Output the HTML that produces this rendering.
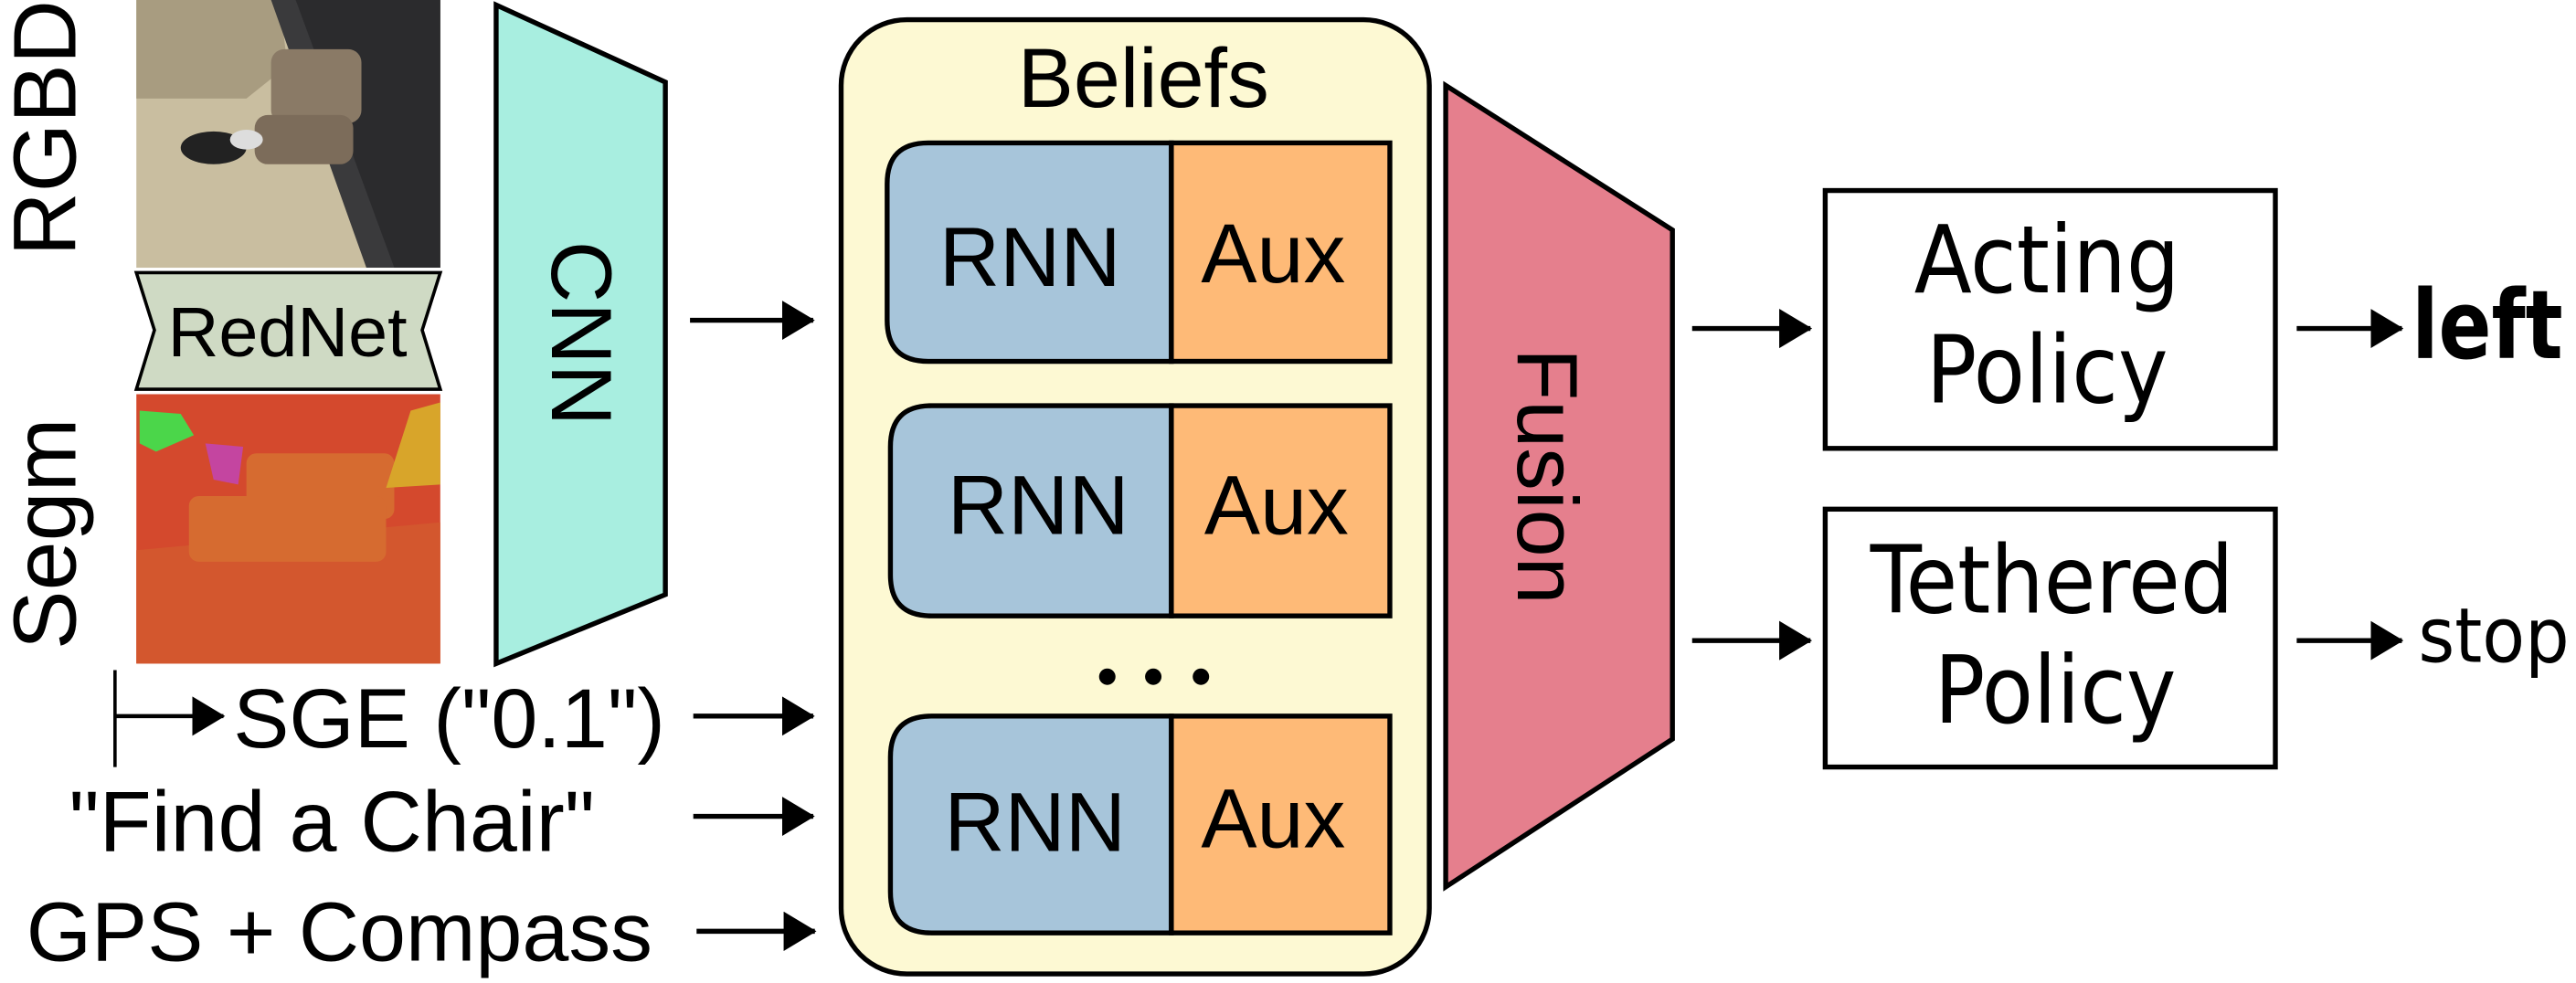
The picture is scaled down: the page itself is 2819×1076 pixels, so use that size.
<!DOCTYPE html>
<html><head><style>html,body{margin:0;padding:0;background:#fff;}svg{display:block;}</style></head>
<body>
<svg width="2819" height="1076" viewBox="0 0 1568 598.5" preserveAspectRatio="none" xmlns="http://www.w3.org/2000/svg" font-family="Liberation Sans, DejaVu Sans, sans-serif">
<defs>
<marker id="ah" markerWidth="20" markerHeight="24" refX="19" refY="12" orient="auto" markerUnits="userSpaceOnUse" viewBox="0 0 20 24"><path d="M0,0 L20,12 L0,24 z" fill="#000"/></marker>
</defs>
<rect x="83" y="0" width="185" height="163" fill="#c9bea0"/>
<polygon points="83,0 170,0 175,40 150,60 83,60" fill="#a89c80"/>
<polygon points="165,0 268,0 268,163 223,163" fill="#3a3a3c"/>
<polygon points="180,0 268,0 268,163 240,163" fill="#2b2b2d"/>
<rect x="165" y="30" width="55" height="45" rx="8" fill="#8a7a66"/>
<rect x="155" y="70" width="60" height="30" rx="8" fill="#7c6c5a"/>
<ellipse cx="130" cy="90" rx="20" ry="10" fill="#222"/>
<ellipse cx="150" cy="85" rx="10" ry="6" fill="#ddd"/>
<polygon points="83,166 268,166 257,201 268,237 83,237 94,201" fill="#cfdac4" stroke="#000" stroke-width="2"/>
<text x="175" y="217" font-size="43" text-anchor="middle">RedNet</text>
<rect x="83" y="240" width="185" height="164" fill="#d4492d"/>
<polygon points="83,335 268,318 268,404 83,404" fill="#d3572e"/>
<rect x="150" y="276" width="90" height="40" rx="6" fill="#d66b30"/>
<rect x="115" y="302" width="120" height="40" rx="6" fill="#d66b30"/>
<polygon points="250,250 268,245 268,295 235,297" fill="#d8a52a"/>
<polygon points="85,250 110,252 118,265 95,275 85,270" fill="#4bd64a"/>
<polygon points="125,270 148,272 145,295 130,292" fill="#c445a0"/>
<text transform="translate(46,78) rotate(-90)" font-size="54" text-anchor="middle">RGBD</text>
<text transform="translate(46,325) rotate(-90)" font-size="54" text-anchor="middle">Segm</text>
<polygon points="302,3 405,50 405,362 302,404" fill="#a8eee0" stroke="#000" stroke-width="3"/>
<text transform="translate(336,203) rotate(90)" font-size="52" text-anchor="middle">CNN</text>
<line x1="420" y1="195" x2="495" y2="195" stroke="#000" stroke-width="3" marker-end="url(#ah)"/>
<line x1="70" y1="408" x2="70" y2="467" stroke="#000" stroke-width="2"/>
<line x1="70" y1="436" x2="136" y2="436" stroke="#000" stroke-width="2.5" marker-end="url(#ah)"/>
<text x="142" y="455" font-size="51">SGE ("0.1")</text>
<line x1="422" y1="436" x2="495" y2="436" stroke="#000" stroke-width="3" marker-end="url(#ah)"/>
<text x="42" y="518" font-size="52">"Find a Chair"</text>
<line x1="422" y1="497" x2="495" y2="497" stroke="#000" stroke-width="3" marker-end="url(#ah)"/>
<text x="16" y="585" font-size="51">GPS + Compass</text>
<line x1="424" y1="567" x2="496" y2="567" stroke="#000" stroke-width="3" marker-end="url(#ah)"/>
<rect x="512" y="12" width="358" height="581" rx="40" fill="#fdf9d3" stroke="#000" stroke-width="3"/>
<text x="696" y="65" font-size="51" text-anchor="middle">Beliefs</text>
<g stroke="#000" stroke-width="3">
<path d="M713,87 L565,87 Q540,87 540,112 L540,195 Q540,220 565,220 L713,220 Z" fill="#a7c5da"/>
<rect x="713" y="87" width="133" height="133" fill="#feba77"/>
<path d="M713,247 L567,247 Q542,247 542,272 L542,350 Q542,375 567,375 L713,375 Z" fill="#a7c5da"/>
<rect x="713" y="247" width="133" height="128" fill="#feba77"/>
<path d="M713,436 L567,436 Q542,436 542,461 L542,543 Q542,568 567,568 L713,568 Z" fill="#a7c5da"/>
<rect x="713" y="436" width="133" height="132" fill="#feba77"/>
</g>
<g font-size="51" text-anchor="middle">
<text x="627" y="174">RNN</text><text x="775" y="172">Aux</text>
<text x="632" y="325">RNN</text><text x="777" y="325">Aux</text>
<text x="630" y="518">RNN</text><text x="775" y="516">Aux</text>
</g>
<circle cx="674" cy="412" r="5"/><circle cx="702" cy="412" r="5"/><circle cx="731" cy="412" r="5"/>
<polygon points="880,52 1018,140 1018,450 880,540" fill="#e57f8d" stroke="#000" stroke-width="3"/>
<text transform="translate(924,290) rotate(90)" font-size="52" text-anchor="middle">Fusion</text>
<line x1="1030" y1="200" x2="1102" y2="200" stroke="#000" stroke-width="3" marker-end="url(#ah)"/>
<line x1="1030" y1="390" x2="1102" y2="390" stroke="#000" stroke-width="3" marker-end="url(#ah)"/>
<rect x="1111" y="116" width="274" height="157" fill="#fff" stroke="#000" stroke-width="3"/>
<rect x="1111" y="310" width="274" height="157" fill="#fff" stroke="#000" stroke-width="3"/>
<g font-family="DejaVu Sans Condensed, DejaVu Sans, sans-serif" font-size="57" text-anchor="middle">
<text x="1246" y="178">Acting</text><text x="1246" y="245">Policy</text>
<text x="1249" y="373">Tethered</text><text x="1251" y="440">Policy</text>
</g>
<line x1="1398" y1="200" x2="1462" y2="200" stroke="#000" stroke-width="3" marker-end="url(#ah)"/>
<text x="1468" y="218" font-size="58" font-weight="bold" font-family="DejaVu Sans Condensed, DejaVu Sans, sans-serif" textLength="92" lengthAdjust="spacingAndGlyphs">left</text>
<line x1="1398" y1="390" x2="1462" y2="390" stroke="#000" stroke-width="3" marker-end="url(#ah)"/>
<text x="1472" y="403" font-size="46" font-family="DejaVu Sans Condensed, DejaVu Sans, sans-serif" textLength="92" lengthAdjust="spacingAndGlyphs">stop</text>
</svg>
</body></html>
